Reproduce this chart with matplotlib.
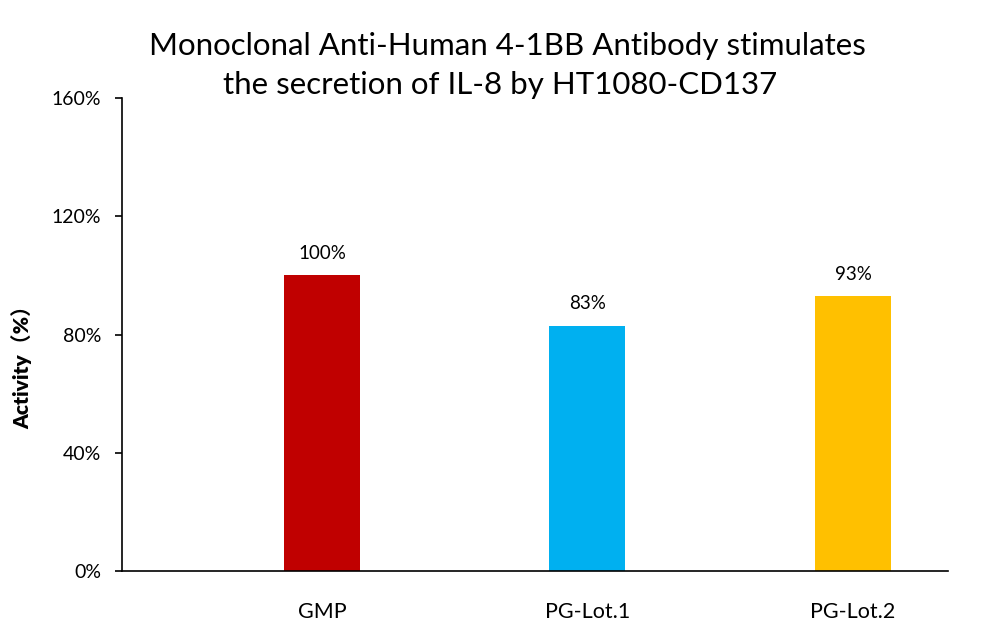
import matplotlib
matplotlib.use("Agg")
import matplotlib.pyplot as plt

# --- Data ---
categories = ["GMP", "PG-Lot.1", "PG-Lot.2"]
activity = [100, 83, 93]
bar_labels = ["100%", "83%", "93%"]
colors = ["#C00000", "#00B0F0", "#FFC000"]
yticks = [0, 40, 80, 120, 160]

plt.rcParams['font.family'] = ['Lato', 'Noto Sans CJK SC', 'DejaVu Sans']

fig = plt.figure(figsize=(10, 6.36), dpi=100)
ax = fig.add_axes([0.122, 0.1022, 0.826, 0.7437])

x = list(range(len(categories)))
bars = ax.bar(x, activity, width=0.286, color=colors)
for b, lab in zip(bars, bar_labels):
    ax.text(b.get_x() + b.get_width() / 2, b.get_height() + 4.5, lab,
            ha='center', va='bottom', fontsize=13.5)

ax.set_xlim(-0.753, 2.358)
ax.set_ylim(0, 160)
ax.set_yticks(yticks)
ax.set_yticklabels([f"{t}%" for t in yticks], fontsize=14)
ax.set_xticks(x)
ax.set_xticklabels(categories, fontsize=15.5)
ax.tick_params(axis='x', length=0, pad=22)
ax.tick_params(axis='y', length=5, direction='out', width=1.2, pad=10)

for s in ['top', 'right']:
    ax.spines[s].set_visible(False)
for s in ['left', 'bottom']:
    ax.spines[s].set_linewidth(1.2)

fig.text(0.022, 1 - 362 / 636, "Activity（%）", rotation=90, ha='center',
         va='center', fontsize=15, fontweight='heavy')

fig.text(0.507, 0.928, "Monoclonal Anti-Human 4-1BB Antibody stimulates",
         ha='center', va='center', fontsize=22.5)
fig.text(0.5, 0.866, "the secretion of IL-8 by HT1080-CD137",
         ha='center', va='center', fontsize=22.5)

fig.savefig("out.png", dpi=100)
